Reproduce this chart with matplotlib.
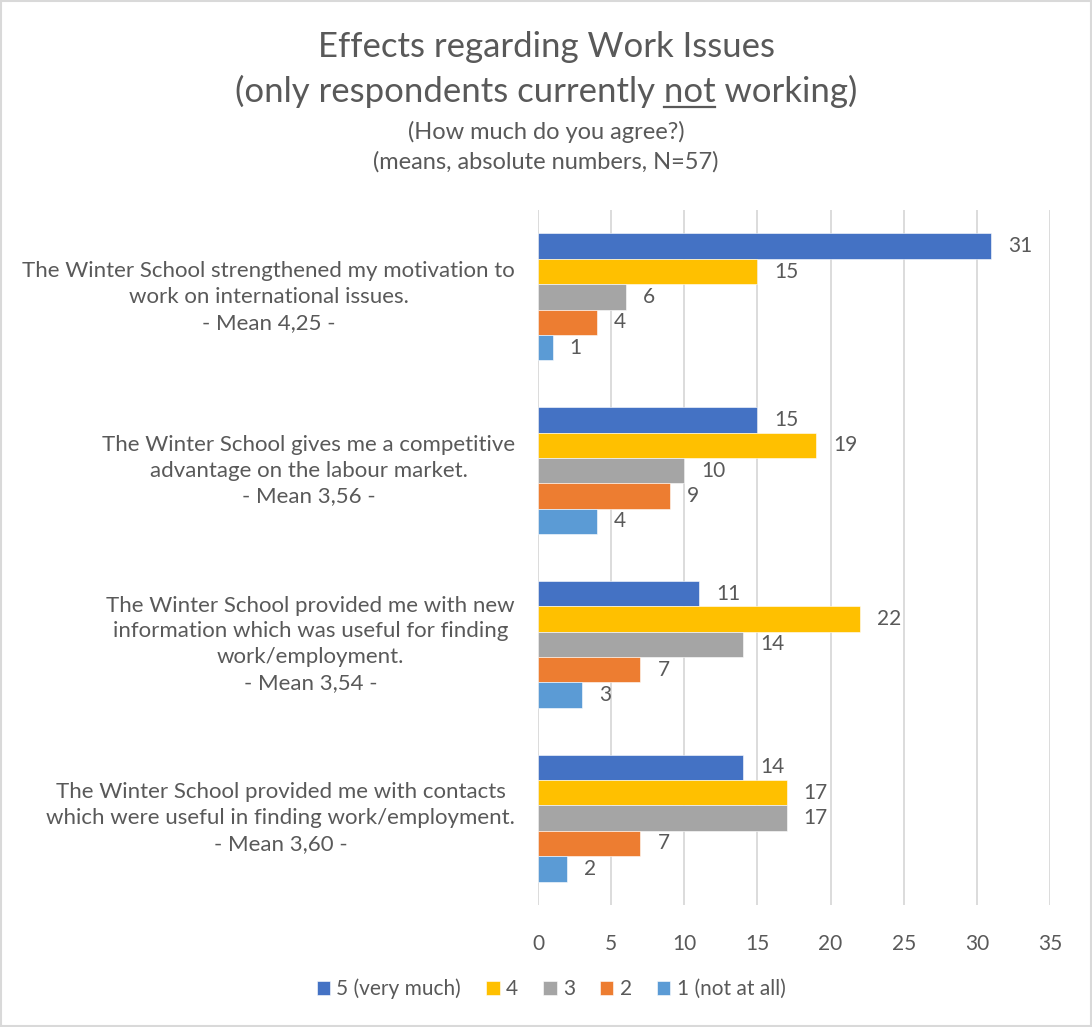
import matplotlib
matplotlib.use("Agg")
import matplotlib.pyplot as plt
from matplotlib.lines import Line2D
from matplotlib.patches import Rectangle
import numpy as np

plt.rcParams['font.family'] = ['Lato', 'DejaVu Sans']

questions = [
    "The Winter School strengthened my motivation to\nwork on international issues.\n- Mean 4,25 -",
    "The Winter School gives me a competitive\nadvantage on the labour market.\n- Mean 3,56 -",
    "The Winter School provided me with new\ninformation which was useful for finding\nwork/employment.\n- Mean 3,54 -",
    "The Winter School provided me with contacts\nwhich were useful in finding work/employment.\n- Mean 3,60 -",
]
series_names = ["5 (very much)", "4", "3", "2", "1 (not at all)"]
v5 = [31, 15, 11, 14]
v4 = [15, 19, 22, 17]
v3 = [6, 10, 14, 17]
v2 = [4, 9, 7, 7]
v1 = [1, 4, 3, 2]
colors = ["#4472C4", "#FFC000", "#A5A5A5", "#ED7D31", "#5B9BD5"]
xticks = [0, 5, 10, 15, 20, 25, 30, 35]

txt = "#595959"
W, H = 1092, 1027
fig = plt.figure(figsize=(W / 100, H / 100), dpi=100)
ax = fig.add_axes([538 / W, 1 - 905 / H, (1050 - 538) / W, (905 - 210) / H])

bar_h = 0.146
y = np.arange(len(questions))
all_vals = [v5, v4, v3, v2, v1]
for i, (vals, c, name) in enumerate(zip(all_vals, colors, series_names)):
    pos = y - 2 * bar_h + i * bar_h
    bars = ax.barh(pos, vals, height=bar_h, color=c, label=name,
                   edgecolor="white", linewidth=0.4, zorder=3)
    for b, v in zip(bars, vals):
        ax.annotate(str(v), (v, b.get_y() + b.get_height() / 2),
                    xytext=(17, 0), textcoords="offset pixels",
                    ha="left", va="center", fontsize=15, color=txt)

ax.set_ylim(len(questions) - 0.5, -0.5)
ax.set_xlim(0, 35)
ax.set_xticks(xticks)
ax.set_xticklabels([str(t) for t in xticks], fontsize=15, color=txt)
ax.set_yticks([])
ax.tick_params(axis="x", length=0, pad=21)
ax.grid(axis="x", color="#d9d9d9", linewidth=1.3, zorder=0)
for s in ax.spines.values():
    s.set_visible(False)

for yi, q in zip(y, questions):
    ax.text(-23 / 512 * 35, yi, q, ha="right", va="center", multialignment="center",
            fontsize=16, color=txt, linespacing=1.36, transform=ax.transData)

# titles
fig.text(0.5, 1 - 47 / H, "Effects regarding Work Issues", ha="center", va="center",
         fontsize=25, color=txt)
line2 = fig.text(0.5, 1 - 91 / H, "(only respondents currently not working)",
                 ha="center", va="center", fontsize=25, color=txt)
fig.text(0.5, 1 - 132 / H, "(How much do you agree?)", ha="center", va="center",
         fontsize=17, color=txt)
fig.text(0.5, 1 - 162 / H, "(means, absolute numbers, N=57)", ha="center", va="center",
         fontsize=17, color=txt)

# underline "not"
r = fig.canvas.get_renderer()
full = line2.get_window_extent(r)
pre = fig.text(0, 0, "(only respondents currently ", fontsize=25)
word = fig.text(0, 0, "not", fontsize=25)
pw = pre.get_window_extent(r).width
ww = word.get_window_extent(r).width
pre.remove()
word.remove()
x0 = full.x0 + pw
fig.add_artist(Line2D([x0 / W, (x0 + ww) / W], [1 - 107 / H, 1 - 107 / H],
                      color=txt, linewidth=1.6))

leg = fig.legend(loc="center", bbox_to_anchor=(551 / W, 1 - 989 / H), ncol=5,
                 frameon=False, fontsize=15, handlelength=0.65, handleheight=0.65,
                 handletextpad=0.3, columnspacing=1.2)
for t in leg.get_texts():
    t.set_color(txt)

fig.add_artist(Rectangle((0.001, 0.001), 0.998, 0.998, transform=fig.transFigure,
                         fill=False, edgecolor="#d9d9d9", linewidth=1.5))

fig.savefig("out.png", dpi=100)
